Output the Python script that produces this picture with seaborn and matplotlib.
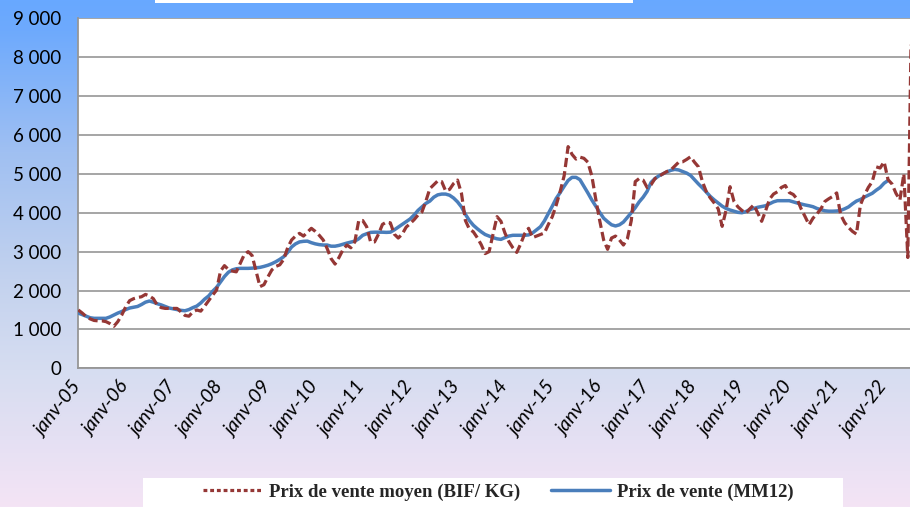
import numpy as np
import pandas as pd
import matplotlib
matplotlib.use("Agg")
import matplotlib.pyplot as plt
import seaborn as sns
from matplotlib.lines import Line2D
from matplotlib.patches import Rectangle
from matplotlib.ticker import FuncFormatter, FixedLocator
from matplotlib import font_manager

# ---------------- data (monthly, janv-05 onwards) ----------------
tick_labels = ["janv-05", "janv-06", "janv-07", "janv-08", "janv-09", "janv-10",
               "janv-11", "janv-12", "janv-13", "janv-14", "janv-15", "janv-16",
               "janv-17", "janv-18", "janv-19", "janv-20", "janv-21", "janv-22"]

prix_moyen = [
    1500, 1420, 1330, 1270, 1230, 1220, 1220, 1200, 1150, 1080, 1200, 1370,   # 2005
    1580, 1740, 1790, 1820, 1840, 1900, 1860, 1790, 1620, 1560, 1540, 1540,   # 2006
    1540, 1540, 1450, 1360, 1340, 1450, 1500, 1470, 1600, 1740, 1880, 2010,   # 2007
    2500, 2640, 2540, 2500, 2480, 2700, 2920, 3000, 2900, 2500, 2100, 2150,   # 2008
    2350, 2530, 2620, 2660, 2800, 3100, 3300, 3400, 3470, 3400, 3500, 3600,   # 2009
    3520, 3420, 3300, 3080, 2820, 2680, 2850, 3050, 3170, 3100, 3250, 3800,   # 2010
    3800, 3640, 3250, 3250, 3450, 3700, 3760, 3740, 3450, 3350, 3450, 3630,   # 2011
    3720, 3820, 3940, 4020, 4300, 4620, 4720, 4820, 4800, 4560, 4600, 4750,   # 2012
    4840, 4500, 3800, 3580, 3510, 3360, 3180, 2950, 3000, 3450, 3900, 3780,   # 2013
    3480, 3260, 3100, 2980, 3200, 3460, 3600, 3360, 3400, 3440, 3480, 3700,   # 2014
    3900, 4200, 4550, 4950, 5700, 5500, 5380, 5430, 5400, 5300, 4950, 4350,   # 2015
    3800, 3300, 3060, 3350, 3400, 3300, 3170, 3330, 3800, 4800, 4880, 4840,   # 2016
    4650, 4720, 4880, 4940, 5000, 5060, 5100, 5200, 5300, 5310, 5370, 5440,   # 2017
    5300, 5180, 4800, 4540, 4380, 4250, 4100, 3650, 4070, 4670, 4290, 4150,   # 2018
    4060, 3990, 4100, 4200, 4000, 3780, 4050, 4350, 4480, 4540, 4650, 4700,   # 2019
    4520, 4470, 4350, 4100, 3900, 3690, 3860, 3970, 4100, 4290, 4360, 4420,   # 2020
    4510, 3950, 3750, 3620, 3520, 3450, 4200, 4450, 4650, 4800, 5180, 5150,   # 2021
    5310, 4850, 4740, 4500, 4330, 5000, 2850, 9600,                           # 2022
]

prix_mm12 = [
    1420, 1380, 1340, 1300, 1285, 1285, 1285, 1285, 1320, 1370, 1420, 1460,   # 2005
    1510, 1550, 1570, 1590, 1640, 1700, 1730, 1700, 1660, 1630, 1590, 1550,   # 2006
    1530, 1510, 1490, 1480, 1510, 1560, 1600, 1680, 1780, 1860, 1980, 2080,   # 2007
    2220, 2360, 2470, 2530, 2560, 2570, 2570, 2570, 2575, 2585, 2595, 2620,   # 2008
    2650, 2690, 2740, 2800, 2870, 2980, 3120, 3200, 3250, 3265, 3270, 3230,   # 2009
    3200, 3180, 3170, 3170, 3140, 3140, 3160, 3190, 3220, 3245, 3270, 3330,   # 2010
    3420, 3460, 3495, 3500, 3500, 3500, 3495, 3500, 3560, 3630, 3700, 3770,   # 2011
    3840, 3940, 4060, 4150, 4240, 4300, 4400, 4460, 4480, 4480, 4450, 4380,   # 2012
    4280, 4150, 3960, 3800, 3680, 3590, 3510, 3440, 3400, 3360, 3330, 3315,   # 2013
    3360, 3400, 3420, 3420, 3420, 3420, 3430, 3480, 3560, 3640, 3790, 3980,   # 2014
    4170, 4370, 4520, 4680, 4830, 4910, 4910, 4850, 4680, 4510, 4330, 4170,   # 2015
    4010, 3860, 3770, 3690, 3660, 3690, 3760, 3880, 4000, 4130, 4280, 4400,   # 2016
    4550, 4780, 4880, 4950, 5000, 5050, 5090, 5115, 5100, 5060, 5020, 4960,   # 2017
    4850, 4740, 4640, 4530, 4420, 4330, 4250, 4170, 4110, 4070, 4040, 4010,   # 2018
    4000, 4030, 4080, 4110, 4140, 4160, 4180, 4230, 4280, 4310, 4310, 4310,   # 2019
    4310, 4280, 4250, 4225, 4200, 4180, 4155, 4110, 4080, 4050, 4040, 4040,   # 2020
    4045, 4060, 4100, 4150, 4230, 4300, 4340, 4400, 4450, 4500, 4580, 4650,   # 2021
    4760, 4830,                                                               # 2022
]

label_moyen = "Prix de vente moyen (BIF/ KG)"
label_mm12 = "Prix de vente (MM12)"

df_moyen = pd.DataFrame({"mois": np.arange(len(prix_moyen)), "prix": prix_moyen})
df_mm12 = pd.DataFrame({"mois": np.arange(len(prix_mm12)), "prix": prix_mm12})

# ---------------- styling ----------------
sns.set_theme(style="white")
plt.rcParams["font.family"] = ["Lato", "DejaVu Sans"]

installed = {f.name for f in font_manager.fontManager.ttflist}
narrow = "Liberation Sans Narrow" if "Liberation Sans Narrow" in installed else "Lato"

W, H = 910, 507
fig = plt.figure(figsize=(W / 100, H / 100), dpi=100)

# gradient background
bg = fig.add_axes([0, 0, 1, 1], zorder=-5)
stops = [(0.00, (104, 168, 255)), (0.06, (110, 170, 253)), (0.30, (160, 192, 242)),
         (0.55, (195, 210, 238)), (0.73, (214, 221, 241)), (0.86, (228, 224, 243)),
         (1.00, (244, 228, 245))]
ys = np.linspace(0, 1, 300)
cols = np.zeros((300, 1, 3))
for c in range(3):
    cols[:, 0, c] = np.interp(ys, [s[0] for s in stops], [s[1][c] / 255 for s in stops])
bg.imshow(cols, aspect="auto", extent=[0, 1, 1, 0])
bg.set_xlim(0, 1)
bg.set_ylim(1, 0)
bg.axis("off")

# title box (cut at the top) and legend box
fig.patches.append(Rectangle((155 / W, 1 - 3 / H), 478 / W, 3 / H, transform=fig.transFigure,
                             facecolor="white", edgecolor="none", zorder=1))
fig.patches.append(Rectangle((143 / W, 0), 700 / W, 29 / H, transform=fig.transFigure,
                             facecolor="white", edgecolor="none", zorder=1))

x0, x1 = 78.3, 910
y0, y1 = 368.3, 18.3
ax = fig.add_axes([x0 / W, 1 - y0 / H, (x1 - x0) / W, (y0 - y1) / H])
ax.set_facecolor("white")

grid_c = "#969696"
red = "#953735"
blue = "#4A7EBB"

sns.lineplot(data=df_mm12, x="mois", y="prix", ax=ax, color=blue, linewidth=2.5,
             zorder=3, legend=False, solid_capstyle="round")
sns.lineplot(data=df_moyen, x="mois", y="prix", ax=ax, color=red, linewidth=2.3,
             linestyle=(0, (2.9, 1.3)), dash_capstyle="butt", zorder=4, legend=False)

ax.set_xlim(0, (x1 - x0) / 3.95)
ax.set_ylim(0, 9000)
ax.set_xlabel("")
ax.set_ylabel("")

ax.yaxis.set_major_locator(FixedLocator(np.arange(0, 9001, 1000)))
ax.yaxis.set_major_formatter(FuncFormatter(lambda v, p: f"{int(v):,}".replace(",", " ")))
ax.grid(axis="y", color=grid_c, linewidth=1.2)
ax.grid(axis="x", visible=False)
ax.set_axisbelow(True)

ax.set_xticks(np.arange(len(tick_labels)) * 12)
ax.set_xticklabels(tick_labels, rotation=52, ha="right", va="center",
                   rotation_mode="anchor", fontsize=14, family=[narrow, "DejaVu Sans"],
                   style="italic")
for lab in ax.get_yticklabels():
    lab.set_fontsize(13.5)

ax.tick_params(axis="x", which="major", direction="out", length=5, width=1.1,
               color=grid_c, pad=6, colors="black")
ax.tick_params(axis="y", which="major", direction="out", length=5, width=1.1,
               color=grid_c, pad=7, colors="black")
ax.tick_params(axis="both", color=grid_c)

for s in ["top", "right"]:
    ax.spines[s].set_visible(False)
for s in ["left", "bottom"]:
    ax.spines[s].set_color(grid_c)
    ax.spines[s].set_linewidth(1.3)

handles = [
    Line2D([], [], color=red, linewidth=2.3, linestyle=(0, (1.2, 0.9)), dash_capstyle="butt"),
    Line2D([], [], color=blue, linewidth=2.5),
]
leg = fig.legend(handles, [label_moyen, label_mm12], loc="center",
                 bbox_to_anchor=(498 / W, 15 / H), ncol=2, frameon=False,
                 handlelength=3.15, handletextpad=0.37, columnspacing=1.65,
                 prop={"family": ["Liberation Serif", "DejaVu Serif"], "weight": "bold", "size": 13.5})

fig.savefig("out.png", dpi=100)
